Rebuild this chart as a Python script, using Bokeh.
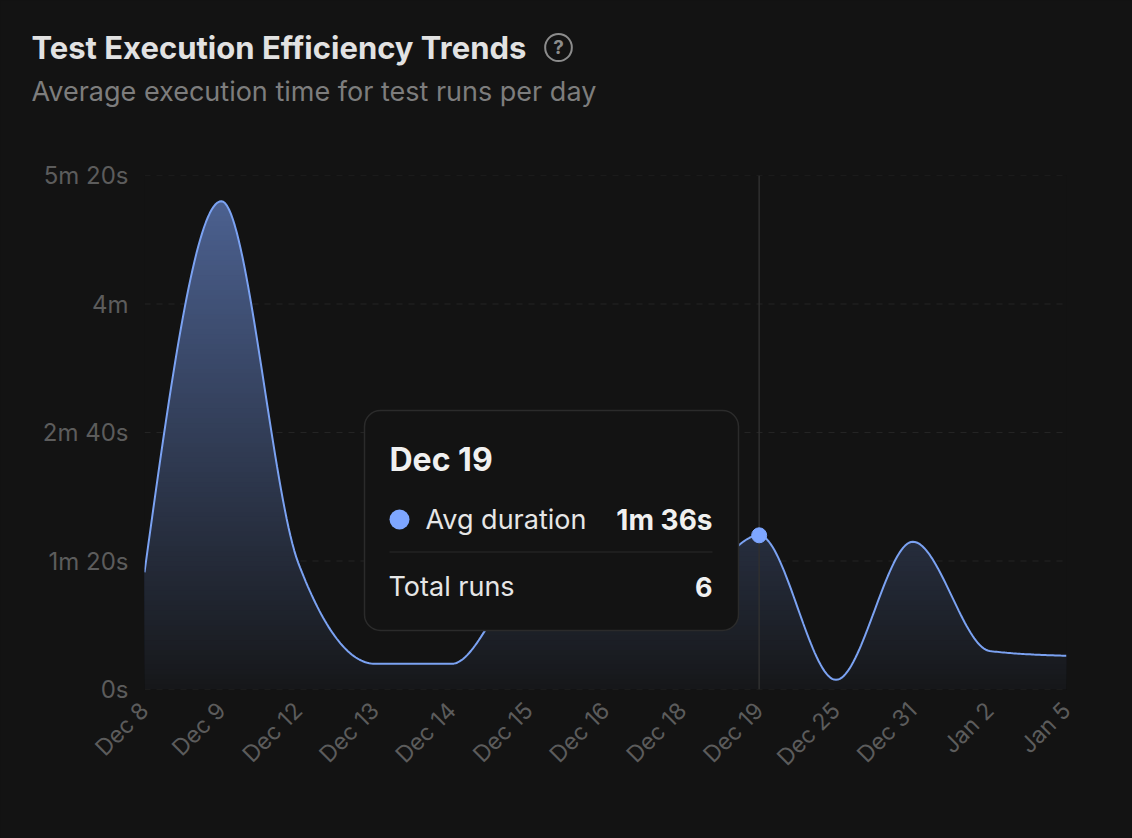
import numpy as np
from bokeh.plotting import figure
from bokeh.models import (BoxAnnotation, Label, Span, FixedTicker, Range1d)
from bokeh.embed import file_html
from bokeh.resources import INLINE

# ---- data ----
dates = ["Dec 8","Dec 9","Dec 12","Dec 13","Dec 14","Dec 15","Dec 16","Dec 18",
         "Dec 19","Dec 25","Dec 31","Jan 2","Jan 5"]
avg_seconds = [73, 304, 79, 16, 16, 68, 62, 60, 96, 6, 92, 24, 21]
y_ticks = [0, 80, 160, 240, 320]
y_tick_labels = ["0s", "1m 20s", "2m 40s", "4m", "5m 20s"]
active_index = 8
title_text = "Test Execution Efficiency Trends"
subtitle_text = "Average execution time for test runs per day"

BG = "#131313"
LINE = "#7BA2F2"
DOT = "#7EA6FF"
FONT = "Inter"
W, H = 1132, 838
# page positions of the plot frame
FL, FR, FT, FB = 144, 1066, 175, 689


def monotone(xs, ys, per=40):
    """d3 curveMonotoneX through the data points"""
    xs = np.asarray(xs, float); ys = np.asarray(ys, float)
    h = np.diff(xs); s = np.diff(ys) / h
    m = np.zeros(len(xs))
    for i in range(1, len(xs) - 1):
        p = (s[i - 1] * h[i] + s[i] * h[i - 1]) / (h[i - 1] + h[i])
        m[i] = (np.sign(s[i - 1]) + np.sign(s[i])) * min(abs(s[i - 1]), abs(s[i]), 0.5 * abs(p))
    m[0] = (3 * s[0] - m[1]) / 2
    m[-1] = (3 * s[-1] - m[-2]) / 2
    ox, oy = [], []
    for i in range(len(h)):
        t = np.linspace(0, 1, per, endpoint=False)
        a = 2*t**3 - 3*t**2 + 1; b = t**3 - 2*t**2 + t
        c = -2*t**3 + 3*t**2; d = t**3 - t**2
        ox.extend(xs[i] + t * h[i])
        oy.extend(a*ys[i] + b*h[i]*m[i] + c*ys[i+1] + d*h[i]*m[i+1])
    ox.append(xs[-1]); oy.append(ys[-1])
    return np.array(ox), np.array(oy)


xi = np.arange(len(dates))
cx, cy = monotone(xi, avg_seconds)
XMAX = len(dates) - 1
YMAX = max(y_ticks)

p = figure(width=W, height=H, output_backend="svg", toolbar_location=None,
           x_range=Range1d(0, XMAX), y_range=Range1d(0, YMAX),
           min_border_left=FL, min_border_right=W - FR,
           min_border_top=FT, min_border_bottom=H - FB)
p.background_fill_color = BG
p.border_fill_color = BG
p.outline_line_color = None

# axes
p.xaxis.ticker = FixedTicker(ticks=list(range(len(dates))))
p.xaxis.major_label_overrides = {int(i): d for i, d in enumerate(dates)}
p.xaxis.major_label_orientation = np.pi / 4
p.yaxis.ticker = FixedTicker(ticks=y_ticks)
p.yaxis.major_label_overrides = dict(zip(y_ticks, y_tick_labels))
for ax, st, fs in ((p.xaxis, 11, "23px"), (p.yaxis, 10, "24px")):
    ax.axis_line_color = None
    ax.major_tick_line_color = None
    ax.minor_tick_line_color = None
    ax.major_label_text_color = "#5c5c5c"
    ax.major_label_text_font = FONT
    ax.major_label_text_font_size = fs
    ax.major_label_standoff = st
p.grid.visible = False
for t in y_ticks:
    p.add_layout(Span(location=t, dimension="width", line_color="#242424", line_width=1,
                      line_dash="6 6", level="overlay" if t == 0 else "underlay"))


def mix(alpha):
    base = np.array([0x13, 0x13, 0x13]); col = np.array([0x7E, 0xA6, 0xFF])
    return "#%02x%02x%02x" % tuple(int(round(v)) for v in base + (col - base) * alpha)


# gradient fill: stacked areas, each starting higher up
top = max(avg_seconds)
levels = np.linspace(0, top, 100)
for lv in levels:
    p.varea(x=cx, y1=np.minimum(cy, lv), y2=cy, fill_color=mix(0.03 + 0.50 * lv / top),
            fill_alpha=1.0)

# crosshair below the line and dot
p.segment(x0=[xi[active_index]], y0=[0], x1=[xi[active_index]], y1=[YMAX],
          line_color="#303030", line_width=1.5)
p.line(cx, cy, line_color=LINE, line_width=2)
p.scatter([xi[active_index]], [avg_seconds[active_index]], size=15, marker="circle",
          fill_color=DOT, line_color=DOT)


def dx(px):
    return (px - FL) / (FR - FL) * XMAX


def dy(py):
    return (FB - py) / (FB - FT) * YMAX


def label(x, y, text, size, color, weight="normal", align="left", place="center", **kw):
    p.add_layout(Label(x=dx(x), y=dy(y), text=text, level="overlay",
                       text_font=FONT, text_font_size=f"{size}px", text_color=color,
                       text_font_style=weight, text_align=align, text_baseline="middle", **kw), place)


def box(l, r, t, b, fill, line=None, radius=0, line_width=1.5):
    p.add_layout(BoxAnnotation(left=dx(l), right=dx(r), top=dy(t), bottom=dy(b),
                               fill_color=fill, fill_alpha=1.0, line_color=line,
                               line_alpha=1.0 if line else 0, line_width=line_width,
                               border_radius=radius, level="overlay"))


# tooltip
box(364, 738, 410, 630, BG, "#2b2b2b", 16)
box(389, 409, 509, 529, DOT, None, 10)
box(389, 712, 551, 552, "#2b2b2b")
label(389, 459, dates[active_index], 32, "#f0f0f0", "bold")
label(425, 519, "Avg duration", 27, "#e6e6e6")
label(712, 519, "1m 36s", 28, "#f0f0f0", "bold", "right")
label(388, 586, "Total runs", 27, "#e6e6e6")
label(712, 586, "6", 27, "#f0f0f0", "bold", "right")

# header
label(31, 47, title_text, 31, "#e2e2e2", "bold", place="above")
label(31, 91, subtitle_text, 27, "#7d7d7d", place="above")
label(558, 47, "?", 19, "#8c8c8c", "bold", "center", place="above",
      border_line_color="#8c8c8c", border_line_width=2, border_radius=14, padding=(8, 2))

html = file_html(p, INLINE)
html = html.replace("<head>", "<head><style>html,body{background:#131313;overflow:hidden}</style>", 1)
open("out.html", "w").write(html)
